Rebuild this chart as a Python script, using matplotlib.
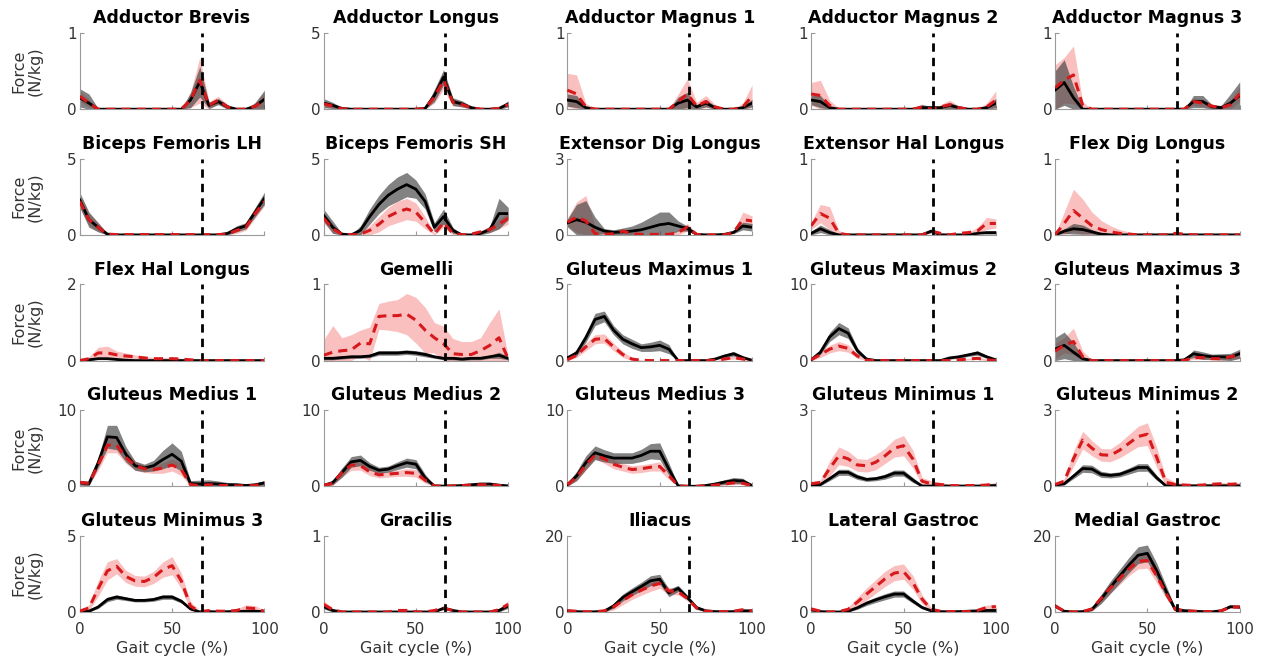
import numpy as np
import matplotlib
matplotlib.use("Agg")
import matplotlib.pyplot as plt

# gait cycle sample points (%)
gait_pct = list(range(0, 101, 5))
toe_off = 66

# muscle forces (N/kg): black = mean/sd of first group, red = mean/sd of second group
# Adductor Brevis
ab_blk    = [0.15,0.08,0,0,0,0,0,0,0,0,0,0,0.12,0.36,0.05,0.10,0.03,0,0,0.04,0.13]
ab_blk_sd = [0.12,0.12,0.01,0,0,0,0,0,0,0,0,0,0.10,0.20,0.04,0.04,0.03,0,0,0.05,0.12]
ab_red    = [0.17,0.08,0,0,0,0,0,0,0,0,0,0,0.12,0.38,0.05,0.12,0.03,0,0,0.04,0.12]
ab_red_sd = [0.07,0.05,0,0,0,0,0,0,0,0,0,0,0.10,0.30,0.05,0.05,0.03,0,0,0.04,0.10]
# Adductor Longus
al_blk    = [0.40,0.25,0.05,0,0,0,0,0,0,0,0,0.05,0.90,2.10,0.50,0.35,0.10,0,0,0.05,0.35]
al_blk_sd = [0.30,0.20,0.05,0,0,0,0,0,0,0,0,0.05,0.40,0.50,0.25,0.20,0.10,0,0,0.05,0.20]
al_red    = [0.35,0.20,0.03,0,0,0,0,0,0,0,0,0.05,0.80,1.90,0.45,0.30,0.10,0,0,0.05,0.30]
al_red_sd = [0.20,0.15,0.03,0,0,0,0,0,0,0,0,0.05,0.40,0.60,0.25,0.15,0.05,0,0,0.05,0.15]
# Adductor Magnus 1
am1_blk    = [0.12,0.10,0.02,0,0,0,0,0,0,0,0,0,0.08,0.12,0.03,0.08,0.02,0,0,0.02,0.08]
am1_blk_sd = [0.08,0.08,0.02,0,0,0,0,0,0,0,0,0,0.08,0.10,0.03,0.05,0.02,0,0,0.02,0.05]
am1_red    = [0.25,0.20,0.03,0,0,0,0,0,0,0,0,0,0.10,0.20,0.04,0.10,0.03,0,0,0.03,0.17]
am1_red_sd = [0.22,0.25,0.05,0,0,0,0,0,0,0,0,0,0.10,0.20,0.05,0.08,0.03,0,0,0.05,0.15]
# Adductor Magnus 2
am2_blk    = [0.12,0.10,0.02,0,0,0,0,0,0,0,0,0,0.02,0.02,0.02,0.05,0.02,0,0,0.02,0.08]
am2_blk_sd = [0.06,0.08,0.02,0,0,0,0,0,0,0,0,0,0.04,0.02,0.02,0.04,0.02,0,0,0.03,0.06]
am2_red    = [0.20,0.18,0.05,0,0,0,0,0,0,0,0,0,0.03,0,0.03,0.06,0.02,0,0,0.03,0.12]
am2_red_sd = [0.15,0.20,0.07,0.01,0,0,0,0,0,0,0,0,0.04,0,0.03,0.06,0.02,0,0,0.05,0.12]
# Adductor Magnus 3
am3_blk    = [0.25,0.35,0.15,0,0,0,0,0,0,0,0,0,0,0,0,0.10,0.10,0.03,0.02,0.08,0.18]
am3_blk_sd = [0.25,0.30,0.15,0.02,0,0,0,0,0,0,0,0,0,0,0,0.08,0.08,0.03,0.03,0.12,0.18]
am3_red    = [0.28,0.38,0.45,0.05,0,0,0,0,0,0,0,0,0,0,0,0.10,0.08,0.04,0.02,0.06,0.20]
am3_red_sd = [0.30,0.30,0.38,0.05,0,0,0,0,0,0,0,0,0,0,0,0.05,0.05,0.03,0.02,0.06,0.10]
# Biceps Femoris LH
bfl_blk    = [2.3,1.0,0.5,0.05,0,0,0,0,0,0,0,0,0,0,0,0,0.1,0.4,0.6,1.5,2.4]
bfl_blk_sd = [0.5,0.5,0.3,0.05,0,0,0,0,0,0,0,0,0,0,0,0,0.1,0.2,0.2,0.3,0.4]
bfl_red    = [2.2,1.0,0.5,0.05,0.02,0.02,0.02,0.02,0.02,0.02,0.02,0.02,0.02,0.02,0.02,0.02,0.05,0.3,0.5,1.4,2.2]
bfl_red_sd = [0.4,0.4,0.3,0.05,0,0,0,0,0,0,0,0,0,0,0,0,0.05,0.2,0.2,0.3,0.3]
# Biceps Femoris SH
bfs_blk    = [1.3,0.5,0.05,0,0.3,1.2,2.0,2.6,3.0,3.3,3.0,2.2,0.5,1.2,0.3,0,0,0.1,0.35,1.4,1.4]
bfs_blk_sd = [0.4,0.4,0.05,0,0.3,0.5,0.6,0.7,0.8,0.8,0.6,0.5,0.3,0.5,0.2,0,0,0.1,0.2,1.0,0.4]
bfs_red    = [1.1,0.4,0.05,0,0.05,0.3,0.7,1.2,1.5,1.7,1.5,0.8,0.05,0.8,0.1,0,0.05,0.2,0.35,0.7,1.1]
bfs_red_sd = [0.3,0.3,0.05,0,0.1,0.3,0.5,0.6,0.7,0.7,0.6,0.4,0.05,0.3,0.1,0,0,0.1,0.2,0.3,0.4]
# Extensor Dig Longus
edl_blk    = [0.47,0.60,0.50,0.30,0.15,0.10,0.12,0.15,0.20,0.30,0.40,0.45,0.35,0.25,0.02,0,0,0.02,0.10,0.35,0.30]
edl_blk_sd = [0.15,0.60,0.85,0.40,0.10,0.10,0.15,0.20,0.30,0.40,0.50,0.45,0.20,0.10,0.05,0,0,0,0.05,0.15,0.15]
edl_red    = [0.50,0.70,0.55,0.05,0.02,0.05,0.15,0.05,0.02,0.02,0.02,0.02,0.10,0.30,0.02,0,0,0,0.10,0.60,0.55]
edl_red_sd = [0.15,0.60,1.00,0.30,0.05,0.05,0.10,0.05,0,0,0,0,0.10,0.15,0.05,0,0,0,0.05,0.30,0.20]
# Extensor Hal Longus
ehl_blk    = [0.02,0.08,0.03,0,0,0,0,0,0,0,0,0,0,0.05,0,0,0,0,0.02,0.03,0.03]
ehl_blk_sd = [0.03,0.05,0.04,0.01,0,0,0,0,0,0,0,0,0,0.02,0,0,0,0,0,0.02,0.02]
ehl_red    = [0.12,0.28,0.22,0.02,0,0,0,0,0,0,0,0,0,0.05,0.02,0,0.02,0.03,0.05,0.15,0.15]
ehl_red_sd = [0.05,0.12,0.15,0.04,0,0,0,0,0,0,0,0,0,0.03,0.02,0,0,0,0.05,0.08,0.06]
# Flex Dig Longus
fdl_blk    = [0,0.05,0.08,0.07,0.04,0.01,0,0,0,0,0,0,0,0,0,0,0,0,0,0,0]
fdl_blk_sd = [0,0.03,0.07,0.06,0.03,0.01,0,0,0,0,0,0,0,0,0,0,0,0,0,0,0]
fdl_red    = [0,0.15,0.32,0.22,0.12,0.07,0.04,0.02,0.01,0,0,0,0,0.02,0.01,0,0,0,0,0,0]
fdl_red_sd = [0,0.15,0.28,0.25,0.18,0.12,0.08,0.05,0.03,0.02,0.02,0.02,0.02,0.02,0.01,0,0,0,0,0,0]
# Flex Hal Longus
fhl_blk    = [0,0.02,0.05,0.05,0.03,0.01,0,0,0,0,0,0,0,0,0,0,0,0,0,0,0]
fhl_blk_sd = [0,0,0.02,0.02,0.01,0,0,0,0,0,0,0,0,0,0,0,0,0,0,0,0]
fhl_red    = [0,0.05,0.20,0.20,0.15,0.12,0.10,0.07,0.05,0.05,0.05,0.04,0.02,0,0,0,0,0,0,0,0]
fhl_red_sd = [0,0.05,0.15,0.18,0.10,0.08,0.05,0.04,0.03,0.03,0.03,0.02,0,0,0,0,0,0,0,0,0]
# Gemelli
gem_blk    = [0.03,0.03,0.04,0.05,0.05,0.06,0.10,0.10,0.10,0.11,0.10,0.08,0.05,0.03,0.03,0.02,0.03,0.03,0.05,0.07,0.03]
gem_blk_sd = [0.02,0.02,0.02,0.02,0.02,0.02,0.03,0.03,0.03,0.03,0.03,0.03,0.02,0.02,0.02,0.02,0.02,0.02,0.02,0.04,0.02]
gem_red    = [0.07,0.11,0.13,0.14,0.23,0.22,0.58,0.59,0.59,0.61,0.53,0.40,0.30,0.22,0.09,0.08,0.08,0.13,0.20,0.30,0.02]
gem_red_sd = [0.20,0.35,0.17,0.20,0.17,0.22,0.17,0.19,0.21,0.27,0.30,0.30,0.20,0.23,0.20,0.17,0.17,0.17,0.30,0.38,0.03]
# Gluteus Maximus 1
gmx1_blk    = [0.18,0.5,1.5,2.7,2.9,2.0,1.4,1.1,0.85,0.9,1.0,0.75,0,0,0,0,0.1,0.3,0.45,0.2,0.02]
gmx1_blk_sd = [0.1,0.2,0.3,0.4,0.35,0.3,0.3,0.3,0.25,0.3,0.35,0.3,0.02,0,0,0,0.05,0.1,0.15,0.1,0.02]
gmx1_red    = [0.05,0.35,0.9,1.4,1.45,0.9,0.4,0.1,0.02,0,0,0,0,0,0,0,0.02,0.1,0.2,0.1,0]
gmx1_red_sd = [0.05,0.15,0.25,0.3,0.3,0.25,0.2,0.1,0.02,0,0,0,0,0,0,0,0,0.05,0.1,0.05,0]
# Gluteus Maximus 2
gmx2_blk    = [0.1,1.1,3.1,4.2,3.6,1.3,0.2,0,0,0,0,0,0,0,0,0.35,0.5,0.75,1.0,0.5,0.1]
gmx2_blk_sd = [0.1,0.3,0.6,0.8,0.7,0.4,0.1,0,0,0,0,0,0,0,0,0.15,0.2,0.2,0.3,0.2,0.05]
gmx2_red    = [0.1,0.8,1.5,1.9,1.6,0.6,0.05,0,0,0,0,0,0,0,0,0,0.1,0.2,0.3,0.1,0]
gmx2_red_sd = [0.1,0.4,0.5,0.6,0.5,0.3,0.05,0,0,0,0,0,0,0,0,0,0,0.1,0.15,0.1,0]
# Gluteus Maximus 3
gmx3_blk    = [0.3,0.4,0.22,0.05,0,0,0,0,0,0,0,0,0,0,0.02,0.18,0.13,0.10,0.10,0.09,0.18]
gmx3_blk_sd = [0.3,0.35,0.25,0.05,0,0,0,0,0,0,0,0,0,0,0,0.1,0.1,0.07,0.08,0.1,0.12]
gmx3_red    = [0.25,0.4,0.5,0.1,0,0,0,0,0,0,0,0,0,0,0,0.08,0.08,0.05,0.05,0.1,0.15]
gmx3_red_sd = [0.2,0.2,0.35,0.15,0.02,0,0,0,0,0,0,0,0,0,0,0.05,0.05,0.03,0.05,0.08,0.1]
# Gluteus Medius 1
gme1_blk    = [0.45,0.35,3.1,6.5,6.4,4.2,2.7,2.4,2.7,3.5,4.2,3.3,0.35,0.3,0.35,0.3,0.2,0.2,0.1,0.2,0.45]
gme1_blk_sd = [0.3,0.3,0.6,1.5,1.6,1.0,0.6,0.5,0.7,1.2,1.5,1.3,0.4,0.5,0.5,0.4,0.3,0.2,0.1,0.2,0.3]
gme1_red    = [0.5,0.4,2.8,5.4,5.4,3.8,2.7,2.3,2.2,2.4,2.8,2.2,0.2,0.1,0.2,0.1,0.1,0.05,0.05,0.1,0.4]
gme1_red_sd = [0.3,0.3,0.7,1.0,1.0,0.8,0.6,0.5,0.5,0.7,0.8,0.8,0.2,0.1,0.1,0.05,0.05,0.05,0.05,0.05,0.3]
# Gluteus Medius 2
gme2_blk    = [0.1,0.5,1.8,3.2,3.4,2.6,2.1,2.25,2.7,3.1,2.9,1.1,0.05,0.03,0.05,0.1,0.2,0.3,0.3,0.15,0.05]
gme2_blk_sd = [0.1,0.3,0.6,0.7,0.7,0.5,0.4,0.4,0.5,0.6,0.6,0.5,0.05,0,0,0.1,0.1,0.15,0.15,0.1,0]
gme2_red    = [0.1,0.4,1.8,2.8,2.7,1.9,1.5,1.6,1.7,1.8,1.7,0.8,0.05,0,0.05,0.1,0.15,0.2,0.2,0.1,0.05]
gme2_red_sd = [0.1,0.3,0.6,0.7,0.6,0.5,0.4,0.4,0.4,0.5,0.5,0.4,0.05,0,0,0,0.05,0.1,0.1,0,0]
# Gluteus Medius 3
gme3_blk    = [0.2,1.35,3.1,4.4,4.0,3.7,3.7,3.7,4.05,4.6,4.6,2.25,0.05,0,0,0.1,0.3,0.55,0.75,0.7,0.1]
gme3_blk_sd = [0.2,0.6,0.9,0.9,0.8,0.7,0.7,0.7,0.8,1.0,1.1,0.8,0.05,0,0,0.1,0.2,0.3,0.4,0.35,0.1]
gme3_red    = [0.2,1.2,2.8,4.1,3.6,2.9,2.5,2.2,2.3,2.5,2.6,1.4,0.05,0,0,0.05,0.15,0.3,0.45,0.4,0.05]
gme3_red_sd = [0.2,0.5,0.7,0.5,0.6,0.6,0.5,0.5,0.5,0.5,0.6,0.5,0.05,0,0,0,0.1,0.15,0.2,0.2,0]
# Gluteus Minimus 1
gmn1_blk    = [0.03,0.07,0.3,0.55,0.55,0.37,0.27,0.3,0.38,0.52,0.52,0.25,0.01,0.01,0.01,0.01,0.01,0.01,0.01,0.02,0.03]
gmn1_blk_sd = [0.02,0.05,0.08,0.12,0.12,0.1,0.08,0.08,0.1,0.12,0.12,0.1,0.02,0.01,0.01,0.01,0.01,0.01,0.01,0.01,0.01]
gmn1_red    = [0.1,0.15,0.7,1.2,1.08,0.84,0.81,0.95,1.2,1.5,1.6,1.08,0.2,0.1,0.07,0.03,0.02,0.03,0.03,0.05,0.1]
gmn1_red_sd = [0.08,0.1,0.3,0.35,0.3,0.25,0.25,0.3,0.3,0.35,0.4,0.35,0.15,0.12,0.08,0.05,0.03,0.03,0.03,0.05,0.05]
# Gluteus Minimus 2
gmn2_blk    = [0.05,0.1,0.4,0.7,0.68,0.47,0.43,0.47,0.6,0.74,0.74,0.34,0.02,0.02,0.02,0.02,0.02,0.02,0.02,0.02,0.02]
gmn2_blk_sd = [0.03,0.05,0.1,0.15,0.15,0.12,0.1,0.1,0.12,0.15,0.15,0.1,0.02,0.01,0.01,0.01,0.01,0.01,0.01,0.01,0.01]
gmn2_red    = [0.07,0.2,1.08,1.82,1.5,1.24,1.22,1.42,1.69,1.96,2.05,1.15,0.16,0.07,0.05,0.03,0.05,0.08,0.1,0.08,0.1]
gmn2_red_sd = [0.05,0.1,0.3,0.35,0.3,0.25,0.25,0.3,0.35,0.4,0.45,0.4,0.2,0.1,0.05,0.03,0.03,0.05,0.05,0.05,0.05]
# Gluteus Minimus 3
gmn3_blk    = [0.02,0.05,0.33,0.82,0.98,0.87,0.76,0.76,0.82,0.98,0.98,0.71,0.2,0,0.02,0,0.02,0.03,0.05,0.05,0.02]
gmn3_blk_sd = [0.02,0.05,0.1,0.15,0.15,0.12,0.1,0.1,0.12,0.15,0.15,0.12,0.05,0.02,0.02,0.02,0.02,0.02,0.02,0.02,0.02]
gmn3_red    = [0.05,0.27,1.53,2.7,3.0,2.33,2.04,2.0,2.27,2.78,3.04,2.04,0.38,0.02,0.09,0.05,0.05,0.1,0.27,0.22,0.05]
gmn3_red_sd = [0.05,0.2,0.5,0.6,0.5,0.4,0.35,0.35,0.4,0.5,0.6,0.5,0.3,0.05,0.08,0.05,0.05,0.1,0.2,0.2,0.05]
# Gracilis
gra_blk    = [0.07,0.02,0,0,0,0,0,0,0,0,0,0,0,0.05,0.02,0,0,0,0,0.02,0.08]
gra_blk_sd = [0.03,0.02,0,0,0,0,0,0,0,0,0,0,0,0.02,0,0,0,0,0,0.02,0.03]
gra_red    = [0.1,0.03,0,0,0,0,0,0,0.02,0.02,0,0,0.02,0.05,0.02,0,0,0,0,0.03,0.1]
gra_red_sd = [0.05,0.02,0,0,0,0,0,0,0,0,0,0,0,0.02,0,0,0,0,0,0.02,0.05]
# Iliacus
ili_blk    = [0.3,0.1,0,0.05,0.2,1.6,3.8,5.3,6.7,8.2,8.6,5.0,6.2,3.8,1.15,0.3,0.1,0.05,0.1,0.3,0.3]
ili_blk_sd = [0.2,0.1,0,0,0.3,0.6,0.9,1.0,1.1,1.3,1.3,1.0,0.8,0.6,0.4,0.2,0,0,0,0.2,0.2]
ili_red    = [0.3,0.2,0.05,0.05,0.3,1.3,3.0,4.5,5.7,6.8,7.5,5.5,5.3,3.5,1.0,0.2,0.1,0.05,0.2,0.6,0.3]
ili_red_sd = [0.3,0,0,0,0.4,0.8,1.1,1.2,1.3,1.4,1.3,1.0,0.8,0.6,0.4,0.2,0,0,0.2,0.3,0.2]
# Lateral Gastroc
lg_blk    = [0.3,0.05,0,0,0.1,0.55,1.15,1.6,2.0,2.35,2.35,1.45,0.6,0.15,0.05,0.02,0.05,0.1,0.15,0.2,0.2]
lg_blk_sd = [0.2,0,0,0,0.1,0.2,0.3,0.35,0.4,0.4,0.4,0.3,0.2,0.1,0,0,0,0,0,0.1,0.1]
lg_red    = [0.4,0.1,0,0.05,0.35,1.3,2.35,3.35,4.35,5.1,5.3,3.9,1.7,0.35,0.1,0.05,0.05,0.05,0.2,0.6,0.7]
lg_red_sd = [0.3,0.1,0,0,0.3,0.6,0.8,0.9,1.0,1.0,1.0,0.9,0.6,0.2,0.1,0,0,0,0.2,0.3,0.3]
# Medial Gastroc
mg_blk    = [1.6,0.2,0,0.1,0.7,3.4,6.5,9.4,12.3,14.9,15.4,10.9,5.6,0.7,0.35,0.2,0.1,0.05,0.3,1.4,1.3]
mg_blk_sd = [0.5,0.2,0,0.1,0.4,1.2,1.6,1.8,2.0,2.2,2.2,2.0,1.5,0.5,0.2,0,0,0,0,0.3,0.3]
mg_red    = [1.6,0.2,0,0.1,0.8,3.6,6.3,8.8,11.3,13.3,13.5,9.5,5.0,0.8,0.3,0.2,0.1,0.05,0.3,1.3,1.3]
mg_red_sd = [0.5,0.2,0,0,0.5,1.0,1.4,1.6,1.8,2.0,2.0,1.8,1.3,0.5,0.2,0,0,0,0,0.3,0.3]

titles = ["Adductor Brevis", "Adductor Longus", "Adductor Magnus 1", "Adductor Magnus 2", "Adductor Magnus 3",
          "Biceps Femoris LH", "Biceps Femoris SH", "Extensor Dig Longus", "Extensor Hal Longus", "Flex Dig Longus",
          "Flex Hal Longus", "Gemelli", "Gluteus Maximus 1", "Gluteus Maximus 2", "Gluteus Maximus 3",
          "Gluteus Medius 1", "Gluteus Medius 2", "Gluteus Medius 3", "Gluteus Minimus 1", "Gluteus Minimus 2",
          "Gluteus Minimus 3", "Gracilis", "Iliacus", "Lateral Gastroc", "Medial Gastroc"]
y_max = [1, 5, 1, 1, 1,
         5, 5, 3, 1, 1,
         2, 1, 5, 10, 2,
         10, 10, 10, 3, 3,
         5, 1, 20, 10, 20]

panels = [
    (ab_blk, ab_blk_sd, ab_red, ab_red_sd), (al_blk, al_blk_sd, al_red, al_red_sd),
    (am1_blk, am1_blk_sd, am1_red, am1_red_sd), (am2_blk, am2_blk_sd, am2_red, am2_red_sd),
    (am3_blk, am3_blk_sd, am3_red, am3_red_sd), (bfl_blk, bfl_blk_sd, bfl_red, bfl_red_sd),
    (bfs_blk, bfs_blk_sd, bfs_red, bfs_red_sd), (edl_blk, edl_blk_sd, edl_red, edl_red_sd),
    (ehl_blk, ehl_blk_sd, ehl_red, ehl_red_sd), (fdl_blk, fdl_blk_sd, fdl_red, fdl_red_sd),
    (fhl_blk, fhl_blk_sd, fhl_red, fhl_red_sd), (gem_blk, gem_blk_sd, gem_red, gem_red_sd),
    (gmx1_blk, gmx1_blk_sd, gmx1_red, gmx1_red_sd), (gmx2_blk, gmx2_blk_sd, gmx2_red, gmx2_red_sd),
    (gmx3_blk, gmx3_blk_sd, gmx3_red, gmx3_red_sd), (gme1_blk, gme1_blk_sd, gme1_red, gme1_red_sd),
    (gme2_blk, gme2_blk_sd, gme2_red, gme2_red_sd), (gme3_blk, gme3_blk_sd, gme3_red, gme3_red_sd),
    (gmn1_blk, gmn1_blk_sd, gmn1_red, gmn1_red_sd), (gmn2_blk, gmn2_blk_sd, gmn2_red, gmn2_red_sd),
    (gmn3_blk, gmn3_blk_sd, gmn3_red, gmn3_red_sd), (gra_blk, gra_blk_sd, gra_red, gra_red_sd),
    (ili_blk, ili_blk_sd, ili_red, ili_red_sd), (lg_blk, lg_blk_sd, lg_red, lg_red_sd),
    (mg_blk, mg_blk_sd, mg_red, mg_red_sd),
]

RED = "#d7191c"
PINK = "#f03030"
GREY = "#404040"
AXIS_GREY = "#9a9a9a"
TXT = "#333333"

fig = plt.figure(figsize=(12.65, 6.67), dpi=100)
gs = fig.add_gridspec(5, 5, left=0.063, right=0.980, bottom=0.0825, top=0.9505,
                      wspace=0.32, hspace=0.65)
x = np.array(gait_pct)

for i, (title, ymax, (blk, blk_sd, red, red_sd)) in enumerate(zip(titles, y_max, panels)):
    row, col = divmod(i, 5)
    ax = fig.add_subplot(gs[row, col])
    blk, blk_sd = np.array(blk), np.array(blk_sd)
    red, red_sd = np.array(red), np.array(red_sd)

    # shaded +/- 1 sd bands
    ax.fill_between(x, np.clip(red - red_sd, 0, None), red + red_sd,
                    color=PINK, alpha=0.3, lw=0, zorder=1)
    ax.fill_between(x, np.clip(blk - blk_sd, 0, None), blk + blk_sd,
                    color=GREY, alpha=0.65, lw=0, zorder=2)
    ax.plot(x, blk, color="black", lw=2.0, zorder=3)
    ax.plot(x, red, color=RED, lw=2.2, dashes=(3, 2), zorder=4)
    # toe-off marker
    ax.plot([toe_off, toe_off], [0, ymax], color="black", lw=2.0, dashes=(3, 2.2), zorder=5)

    ax.set_xlim(0, 100)
    ax.set_ylim(0, ymax)
    ax.set_yticks([0, ymax])
    ax.set_xticks([0, 50, 100])
    for side in ("top", "right"):
        ax.spines[side].set_visible(False)
    for side in ("left", "bottom"):
        ax.spines[side].set_color(AXIS_GREY)
        ax.spines[side].set_linewidth(0.8)
    ax.tick_params(direction="in", length=3, width=0.8, color=AXIS_GREY,
                   labelsize=11, labelcolor=TXT, pad=2)
    ax.tick_params(axis="x", pad=7)
    ax.set_title(title, fontsize=12.5, fontweight="bold", pad=7)

    if row < 4:
        ax.tick_params(axis="x", labelbottom=False)
    else:
        ax.set_xlabel("Gait cycle (%)", fontsize=11.5, color=TXT, labelpad=3)
    if col == 0:
        ax.set_ylabel("Force\n(N/kg)", fontsize=11.5, color=TXT, linespacing=1.15)
        ax.yaxis.set_label_coords(-0.2, 0.5)

fig.savefig("out.png", dpi=100)
